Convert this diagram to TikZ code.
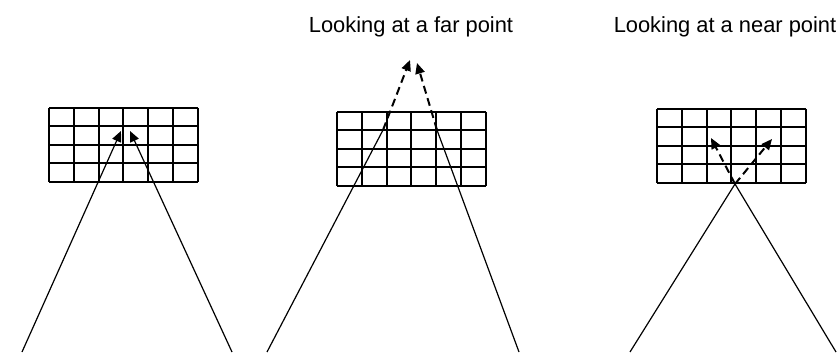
\documentclass[tikz,border=0pt]{standalone}
\usepackage{fontspec}
\setmainfont{Liberation Sans}
\usetikzlibrary{arrows.meta}
\tikzset{
  cell/.style={line width=1.5pt},
  ray/.style={line width=0.9pt},
  tip/.style={-{Triangle[length=8pt,width=7pt]}},
  gaze/.style={line width=1.5pt, dash pattern=on 6pt off 3.5pt, tip},
  caption/.style={font=\fontsize{16.4}{20}\selectfont, inner sep=0pt},
}
\begin{document}
\begin{tikzpicture}[x=0.75pt,y=-0.75pt]
\useasboundingbox (0,0) rectangle (839,356);

% Grids
\foreach \gx/\gy in {49/108, 337/112, 657/109} {
  \foreach \i in {0,...,6} \draw[cell] (\gx+\i*24.8,\gy) -- ++(0,74);
  \foreach \j in {0,...,4} \draw[cell] (\gx,\gy+\j*18.5) -- ++(148.8,0);
}

% Captions
\node[caption] (far) at (411,27) {Looking at a far point};
\node[caption] (near) at (725,27) {Looking at a near point};

% Left: both eyes on the grid
\coordinate (a1) at (22,352);
\coordinate (a2) at (232,352);
\coordinate (t1) at (121,131);
\coordinate (t2) at (130,131);
\draw[ray, tip] (a1) -- (t1);
\draw[ray, tip] (a2) -- (t2);

% Middle: far point
\coordinate (b1) at (267,352);
\coordinate (b2) at (519,352);
\coordinate (k1) at (383,130);
\coordinate (k2) at (437,130);
\coordinate (f1) at (410,60);
\coordinate (f2) at (417,63);
\draw[ray] (b1) -- (k1);
\draw[ray] (b2) -- (k2);
\draw[gaze] (k1) -- (f1);
\draw[gaze] (k2) -- (f2);

% Right: near point
\coordinate (c1) at (630,352);
\coordinate (c2) at (836,352);
\coordinate (v) at (735,184);
\coordinate (n1) at (711,138);
\coordinate (n2) at (772,139);
\draw[ray] (c1) -- (v) -- (c2);
\draw[gaze] (v) -- (n1);
\draw[gaze] (v) -- (n2);
\end{tikzpicture}
\end{document}
